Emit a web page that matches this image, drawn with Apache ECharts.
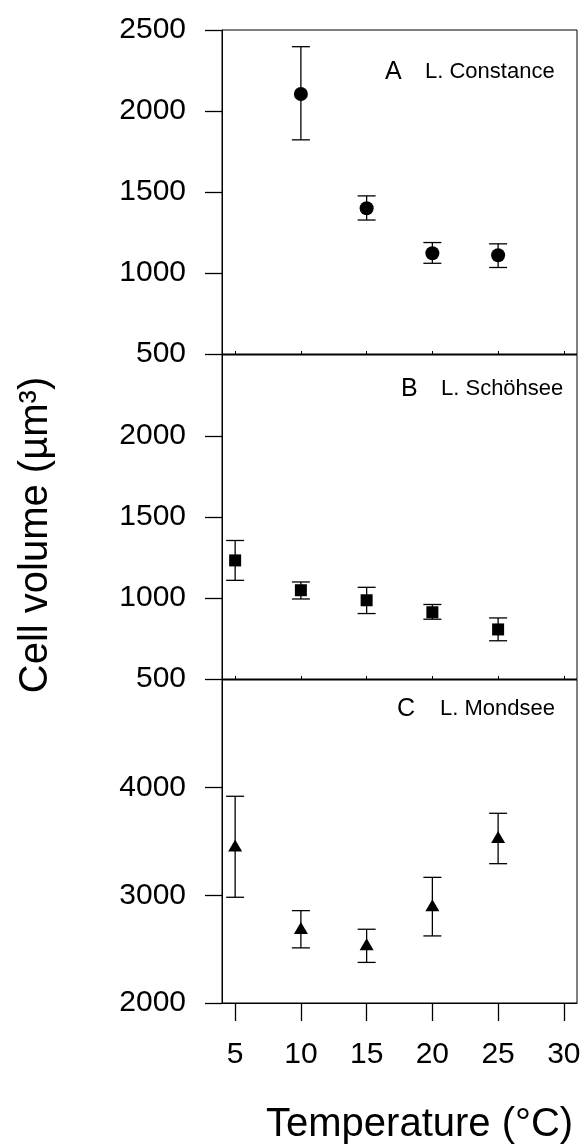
<!DOCTYPE html>
<html>
<head>
<meta charset="utf-8">
<script src="https://cdn.jsdelivr.net/npm/echarts@6/dist/echarts.min.js"></script>
<style>
  html, body { margin: 0; padding: 0; background: #fff; }
  #chart { width: 584px; height: 1144px; }
</style>
</head>
<body>
<div id="chart"></div>
<script>
(function(){
    // x tick labels (temperature, °C)
    const tempTicks = [5, 10, 15, 20, 25, 30];

    // A: L. Constance
    const constanceTemp = [10, 15, 20, 25];
    const constanceMean = [2105, 1400, 1122, 1110];
    const constanceLow  = [1822, 1327, 1060, 1034];
    const constanceHigh = [2397, 1476, 1188, 1180];

    // B: L. Schöhsee
    const schoehseeTemp = [5, 10, 15, 20, 25];
    const schoehseeMean = [1232, 1048, 986, 912, 806];
    const schoehseeLow  = [1109, 994, 904, 869, 736];
    const schoehseeHigh = [1355, 1099, 1066, 960, 877];

    // C: L. Mondsee
    const mondseeTemp = [5, 10, 15, 20, 25];
    const mondseeMean = [3463, 2696, 2546, 2907, 3542];
    const mondseeLow  = [2982, 2512, 2377, 2623, 3294];
    const mondseeHigh = [3920, 2858, 2685, 3167, 3762];

    const font = 'Liberation Sans, Arial, sans-serif';
    let myChart = echarts.init(document.getElementById("chart"));

    function pts(xs, ys){ return xs.map((x, i) => [x, ys[i]]); }
    function bars(xs, lo, hi){ return xs.map((x, i) => [x, lo[i], hi[i]]); }

    function errorBar(idx){
        return {
            type: 'custom',
            xAxisIndex: idx,
            yAxisIndex: idx,
            z: 1,
            renderItem: function(params, api){
                let x = api.value(0);
                let top = api.coord([x, api.value(2)]);
                let bot = api.coord([x, api.value(1)]);
                let half = 9;
                let style = { stroke: '#000', lineWidth: 1.3 };
                return {
                    type: 'group',
                    children: [
                        { type: 'line', shape: { x1: top[0], y1: top[1], x2: bot[0], y2: bot[1] }, style: style },
                        { type: 'line', shape: { x1: top[0] - half, y1: top[1], x2: top[0] + half, y2: top[1] }, style: style },
                        { type: 'line', shape: { x1: bot[0] - half, y1: bot[1], x2: bot[0] + half, y2: bot[1] }, style: style }
                    ]
                };
            },
            encode: { x: 0, y: [1, 2] }
        };
    }

    function xAxis(idx, bottom){
        return {
            type: 'value',
            gridIndex: idx,
            min: 4,
            max: 31,
            axisLine: { show: true, lineStyle: { color: '#000', width: 1 } },
            axisTick: bottom
                ? { show: true, inside: false, length: 18, customValues: tempTicks, lineStyle: { color: '#000', width: 1.3 } }
                : { show: true, inside: true, length: 3, customValues: tempTicks, lineStyle: { color: '#000' } },
            axisLabel: bottom
                ? { show: true, customValues: tempTicks, margin: 37, fontSize: 30, fontFamily: font, color: '#000' }
                : { show: false },
            splitLine: { show: false }
        };
    }

    function yAxis(idx, min, max, interval, hideMax){
        return {
            type: 'value',
            gridIndex: idx,
            min: min,
            max: max,
            interval: interval,
            axisLine: { show: true, lineStyle: { color: '#000', width: 1 } },
            axisTick: { show: true, inside: false, length: 17, lineStyle: { color: '#000', width: 1.3 } },
            axisLabel: {
                margin: 36, fontSize: 30, fontFamily: font, color: '#000',
                showMaxLabel: !hideMax,
                formatter: v => String(v)
            },
            splitLine: { show: false }
        };
    }

    let grids = [
        { left: 222, right: 7, top: 30, height: 324 },
        { left: 222, right: 7, top: 355, height: 324 },
        { left: 222, right: 7, top: 680, height: 323 }
    ].map(g => Object.assign(g, { show: true, borderColor: '#000', borderWidth: 1, containLabel: false }));

    let panelText = [
        { letter: 'A', name: 'L. Constance', lx: 385, nx: 425, y: 74 },
        { letter: 'B', name: 'L. Schöhsee', lx: 401, nx: 441, y: 391 },
        { letter: 'C', name: 'L. Mondsee', lx: 397, nx: 440, y: 711 }
    ];
    let graphic = [];
    panelText.forEach(p => {
        graphic.push({ type: 'text', left: p.lx, top: p.y - 14, style: { text: p.letter, font: '25px ' + font, fill: '#000' } });
        graphic.push({ type: 'text', left: p.nx, top: p.y - 13, style: { text: p.name, font: '22px ' + font, fill: '#000' } });
    });
    graphic.push({
        type: 'text', left: 266, top: 1105,
        style: { text: 'Temperature (°C)', font: '40px ' + font, fill: '#000' }
    });
    graphic.push({
        type: 'text', x: 36, y: 535, rotation: Math.PI / 2,
        style: { text: 'Cell volume (µm³)', font: '40px ' + font, fill: '#000', align: 'center', verticalAlign: 'middle' }
    });

    let options = {
        animation: false,
        backgroundColor: '#fff',
        grid: grids,
        xAxis: [xAxis(0, false), xAxis(1, false), xAxis(2, true)],
        yAxis: [
            yAxis(0, 500, 2500, 500, false),
            yAxis(1, 500, 2500, 500, true),
            yAxis(2, 2000, 5000, 1000, true)
        ],
        graphic: graphic,
        series: [
            Object.assign(errorBar(0), { data: bars(constanceTemp, constanceLow, constanceHigh) }),
            Object.assign(errorBar(1), { data: bars(schoehseeTemp, schoehseeLow, schoehseeHigh) }),
            Object.assign(errorBar(2), { data: bars(mondseeTemp, mondseeLow, mondseeHigh) }),
            {
                type: 'scatter', xAxisIndex: 0, yAxisIndex: 0, z: 3,
                symbol: 'circle', symbolSize: 14,
                itemStyle: { color: '#000', opacity: 1 },
                data: pts(constanceTemp, constanceMean)
            },
            {
                type: 'scatter', xAxisIndex: 1, yAxisIndex: 1, z: 3,
                symbol: 'rect', symbolSize: 12,
                itemStyle: { color: '#000', opacity: 1 },
                data: pts(schoehseeTemp, schoehseeMean)
            },
            {
                type: 'scatter', xAxisIndex: 2, yAxisIndex: 2, z: 3,
                symbol: 'triangle', symbolSize: [14, 12],
                itemStyle: { color: '#000', opacity: 1 },
                data: pts(mondseeTemp, mondseeMean)
            }
        ]
    };
    myChart.setOption(options);
})();
</script>
</body>
</html>
